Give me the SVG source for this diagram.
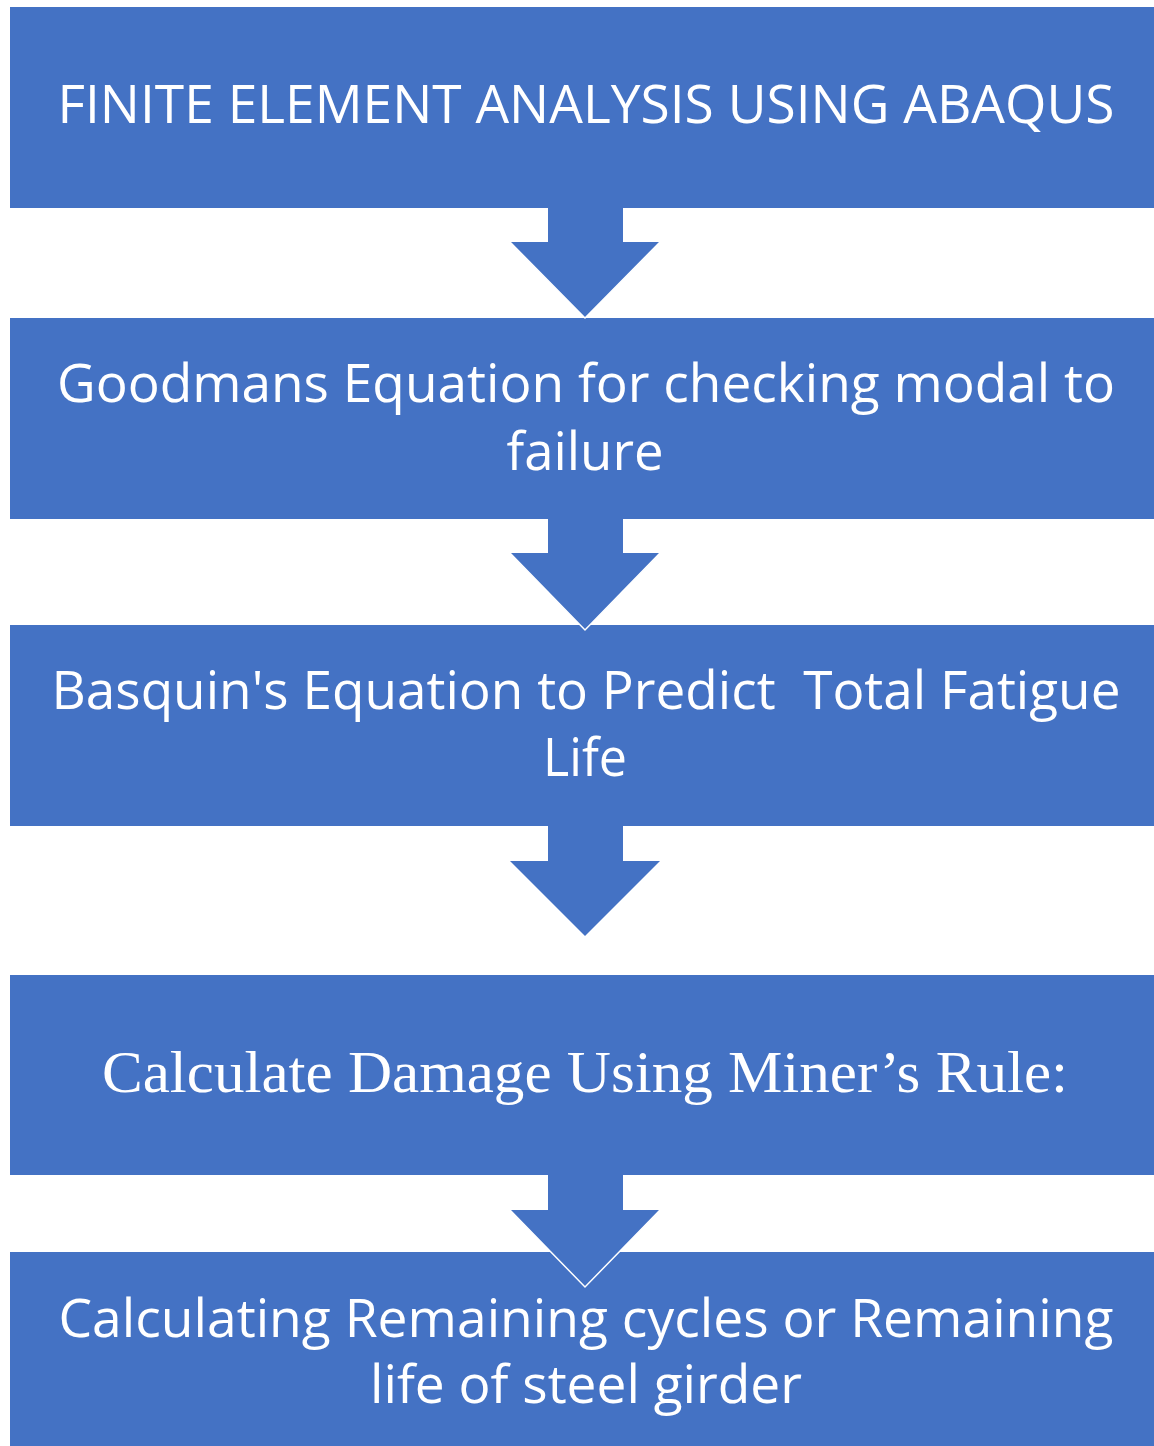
<svg xmlns="http://www.w3.org/2000/svg" width="1154" height="1446" viewBox="0 0 1154 1446">
<style>
.box{fill:#4472C4}
.arrow{fill:#4472C4}
.edge{fill:none;stroke:#FFFFFF;stroke-width:1.5}
.t{fill:#FFFFFF;font-family:"Open Sans","Noto Sans","Liberation Sans",sans-serif;font-size:53px;text-anchor:middle}
.s{fill:#FFFFFF;font-family:"Liberation Serif","Times New Roman",serif;font-size:60px;text-anchor:middle}
</style>
<rect width="1154" height="1446" fill="#FFFFFF"/>
<g id="node1">
<rect class="box" x="10" y="7" width="1144" height="201"/>
<text class="t" x="586" y="123" textLength="1057" lengthAdjust="spacingAndGlyphs">FINITE ELEMENT ANALYSIS USING ABAQUS</text>
</g>
<g id="node2">
<rect class="box" x="10" y="318" width="1144" height="201"/>
<text class="t" x="586" y="402" textLength="1058" lengthAdjust="spacingAndGlyphs">Goodmans Equation for checking modal to</text>
<text class="t" x="585" y="470" textLength="157" lengthAdjust="spacingAndGlyphs">failure</text>
</g>
<g id="node3">
<rect class="box" x="10" y="625" width="1144" height="201"/>
<text class="t" x="586" y="709" textLength="1069" lengthAdjust="spacingAndGlyphs" style="white-space:pre">Basquin's Equation to Predict  Total Fatigue</text>
<text class="t" x="585" y="776" textLength="84" lengthAdjust="spacingAndGlyphs">Life</text>
</g>
<g id="node4">
<rect class="box" x="10" y="975" width="1144" height="200"/>
<text class="s" x="585" y="1092" textLength="966" lengthAdjust="spacingAndGlyphs">Calculate Damage Using Miner’s Rule:</text>
</g>
<g id="node5">
<rect class="box" x="10" y="1252" width="1144" height="194"/>
<text class="t" x="586" y="1337" textLength="1055" lengthAdjust="spacingAndGlyphs">Calculating Remaining cycles or Remaining</text>
<text class="t" x="586" y="1403" textLength="432" lengthAdjust="spacingAndGlyphs">life of steel girder</text>
</g>
<g id="connectors">
<g id="arrow1">
<polygon class="arrow" points="548,208 623,208 623,242 660,242 585,318 510,242 548,242"/>
<polyline class="edge" points="510,242 585,318 660,242"/>
</g>
<g id="arrow2">
<polygon class="arrow" points="548,519 623,519 623,553 660,553 585,630 510,553 548,553"/>
<polyline class="edge" points="510,553 585,630 660,553"/>
</g>
<g id="arrow3">
<polygon class="arrow" points="548,826 623,826 623,861 660,861 585,936 510,861 548,861"/>
</g>
<g id="arrow4">
<polygon class="arrow" points="548,1175 623,1175 623,1210 660,1210 585,1287 510,1210 548,1210"/>
<polyline class="edge" points="510,1210 585,1287 660,1210"/>
</g>
</g>
</svg>
